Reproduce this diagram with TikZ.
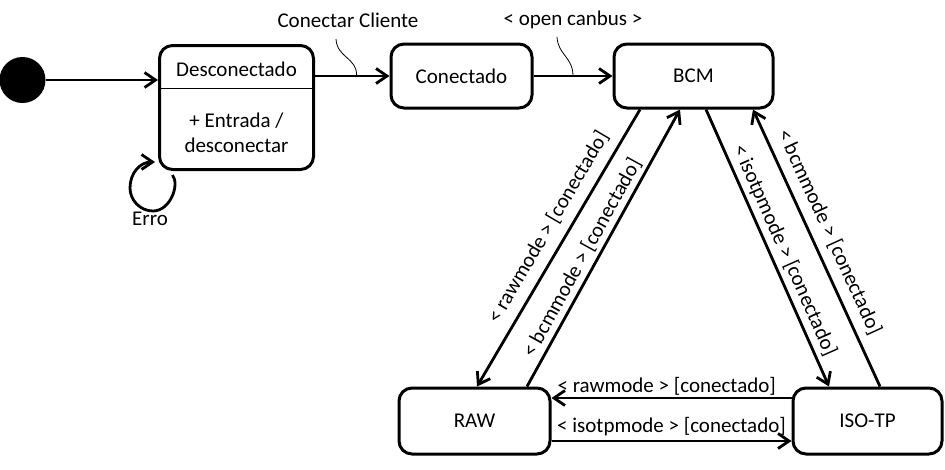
\documentclass[tikz,border=0pt]{standalone}
\usepackage{fontspec}
\setmainfont{Carlito}
\usepackage{tikz}
\usetikzlibrary{arrows.meta}

\begin{document}
\begin{tikzpicture}[x=1pt,y=-1pt,>={Straight Barb[length=11pt,width=15pt]},
  font=\fontsize{21}{25}\selectfont,
  estado/.style={draw,line width=3pt,rounded corners=13pt,inner sep=0pt},
  trans/.style={->,line width=2.8pt},
  rotulo/.style={inner sep=1pt},
  guia/.style={line width=0.8pt}]
\useasboundingbox (0,0) rectangle (945,469);
% estados
\node[circle,fill=black,minimum size=46pt,inner sep=0pt] (ini) at (22.5,80) {};
\node[estado,minimum width=154pt,minimum height=124pt] (desc) at (236.5,107.5) {};
\node (desctit) at (236.5,69) {Desconectado};
\node[align=center] (descent) at (236.5,133) {+ Entrada /\\desconectar};
\draw[line width=1pt] (desc.west |- 0,88) -- (desc.east |- 0,88);
\node[estado,minimum width=141pt,minimum height=64pt] (con) at (461.5,76) {Conectado};
\node[estado,minimum width=159pt,minimum height=64pt] (bcm) at (693.5,76) {BCM};
\node[estado,minimum width=151pt,minimum height=66pt] (raw) at (474.5,421) {RAW};
\node[estado,minimum width=149pt,minimum height=66pt] (iso) at (867.5,421) {ISO-TP};
% transicoes
\draw[trans] (ini) -- (ini -| desc.west);
\draw[trans] ([yshift=31.5pt]desc.east) -- (con.west) coordinate[pos=0.56] (cc);
\draw[trans] (con) -- (bcm) coordinate[pos=0.5] (cb);
\node[rotulo] (lcc) at (348,20) {Conectar Cliente};
\node[rotulo] (lcb) at (573,20) {< open canbus >};
\coordinate (ccup) at (336,39);
\coordinate (cbup) at (557,37);
\draw[guia] (ccup) .. controls +(1,19) and +(0,-19) .. (cc);
\draw[guia] (cbup) .. controls +(1,18) and +(0,-19) .. (cb);
% erro
\draw[trans] ([xshift=-64pt,yshift=-4pt]desc.south) .. controls (180,185) and (170,211) .. (153,211)
  .. controls (140,211) and (130,200) .. (130,188)
  .. controls (130,173) and (140,162) .. ([xshift=-3pt,yshift=9pt]desc.south west);
\node (erro) at (150,219) {Erro};
% modos
\draw[trans] ([xshift=-53.5pt]bcm.south) -- ([xshift=2.5pt]raw.north)
  node[rotulo,sloped,above=8pt,pos=0.46] (l1) {< rawmode > [conectado]};
\draw[trans] ([xshift=52.5pt]raw.north) -- ([xshift=-13.5pt]bcm.south)
  node[rotulo,sloped,above=2.5pt,pos=0.44] (l2) {< bcmmode > [conectado]};
\draw[trans] ([xshift=12.5pt]bcm.south) -- ([xshift=-38.5pt]iso.north)
  node[rotulo,sloped,above=3pt,pos=0.53] (l3) {< isotpmode > [conectado]};
\draw[trans] ([xshift=12.5pt]iso.north) -- ([xshift=59.5pt]bcm.south)
  node[rotulo,sloped,above=7pt,pos=0.53] (l4) {< bcmmode > [conectado]};
\draw[trans] ([yshift=23pt]iso.west) -- ([yshift=23pt]raw.east)
  node[rotulo,above=0pt,pos=0.52] (l5) {< rawmode > [conectado]};
\draw[trans] ([yshift=-20pt]raw.east) -- ([yshift=-20pt]iso.west)
  node[rotulo,above=3pt,pos=0.5] (l6) {< isotpmode > [conectado]};
\end{tikzpicture}
\end{document}
